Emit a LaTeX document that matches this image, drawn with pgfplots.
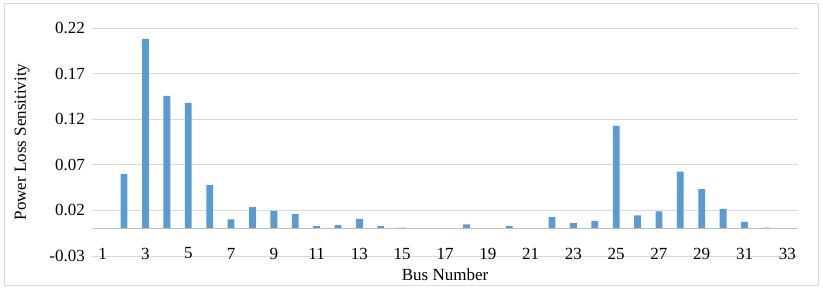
\documentclass[border=0pt]{standalone}
\usepackage{pgfplots}
\pgfplotsset{compat=1.18}
\usepackage{fontspec}
\setmainfont{Liberation Serif}
\definecolor{barblue}{HTML}{5B9BD5}
\definecolor{gridgray}{HTML}{D9D9D9}
\definecolor{zerogray}{HTML}{BFBFBF}
\newcommand{\chartfont}{\fontsize{17bp}{19bp}\selectfont}
\begin{document}
\begin{tikzpicture}[x=1bp,y=1bp]
\useasboundingbox (0,0) rectangle (823,290);
\draw[gridgray, line width=0.9bp] (4,5) rectangle (818,287);
\begin{axis}[
  at={(92bp,34bp)}, anchor=south west,
  scale only axis, width=706bp, height=228bp,
  xmin=0.5, xmax=33.5, ymin=-0.03, ymax=0.22,
  xtick={1,3,...,33},
  ytick={-0.03,0.02,0.07,0.12,0.17,0.22},
  yticklabels={-0.03,0.02,0.07,0.12,0.17,0.22},
  axis line style={draw=none},
  major tick length=0pt,
  ymajorgrids, grid style={gridgray, line width=0.9bp},
  tick label style={font=\chartfont},
  label style={font=\chartfont},
  xticklabel style={anchor=center, yshift=2.5bp},
  yticklabel style={anchor=east, inner sep=0pt, xshift=-7bp},
  /pgf/number format/assume math mode=true,
  xlabel={Bus Number},
  xlabel style={at={(axis description cs:0.5,-0.0833)}, anchor=center},
  ylabel={Power Loss Sensitivity},
  ylabel style={at={(axis description cs:-0.0992,0.5)}, anchor=center},
  clip=false,
]
\addplot[ybar, bar width=6.8bp, fill=barblue, draw=none] coordinates {
(1,0) (2,0.0599) (3,0.2080) (4,0.1456) (5,0.1380) (6,0.0478) (7,0.0101)
(8,0.0236) (9,0.0196) (10,0.0160) (11,0.0027) (12,0.0038) (13,0.0108)
(14,0.0027) (15,0.0012) (16,0) (17,0) (18,0.0046) (19,0) (20,0.0027)
(21,0) (22,0.0126) (23,0.0060) (24,0.0082) (25,0.1128) (26,0.0145)
(27,0.0189) (28,0.0624) (29,0.0434) (30,0.0218) (31,0.0075) (32,0.0010) (33,0)
};
\draw[zerogray, line width=1.2bp] (axis cs:0.5,0) -- (axis cs:33.5,0);
\end{axis}
\end{tikzpicture}
\end{document}
